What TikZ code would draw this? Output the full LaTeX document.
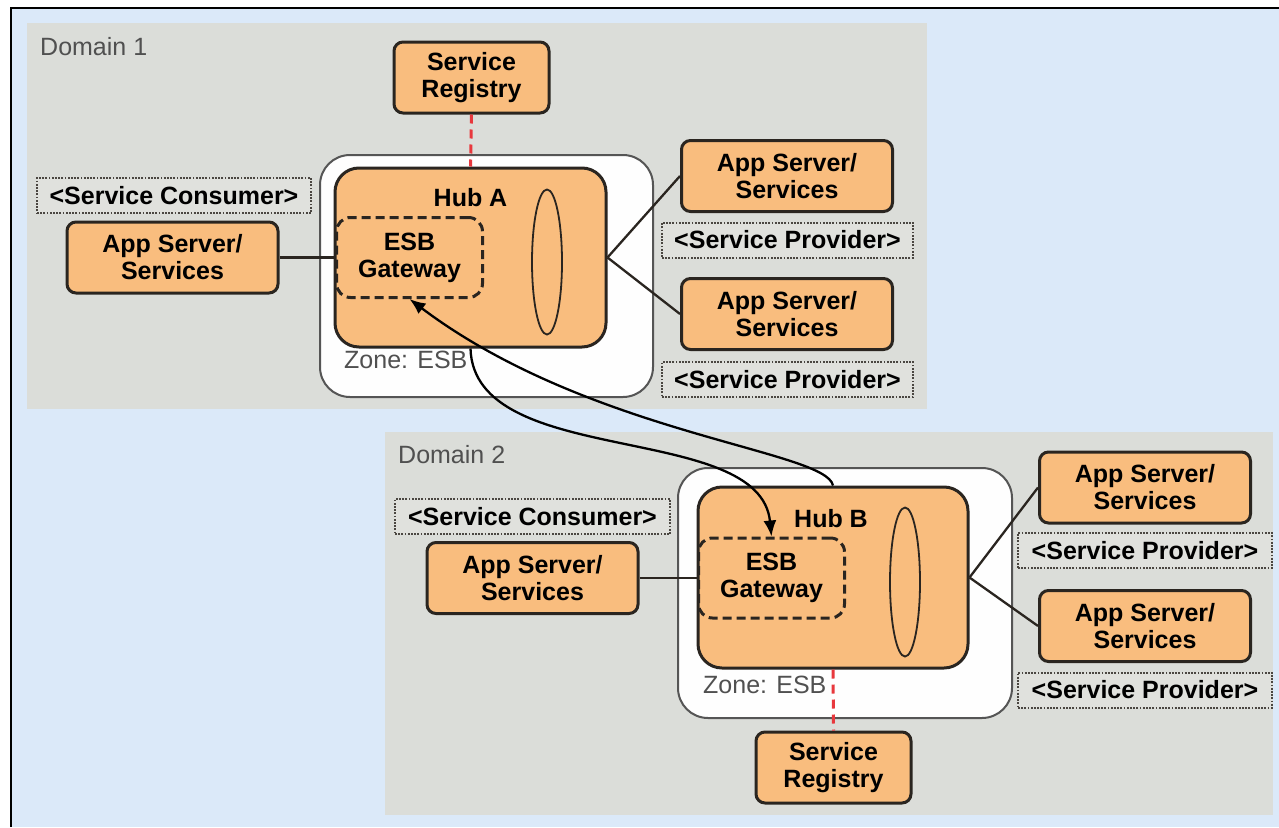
\documentclass[tikz,border=0pt]{standalone}
\usepackage{fontspec}
\setmainfont{Liberation Sans}
\usepackage{tikz}
\usetikzlibrary{shapes.geometric, arrows.meta, positioning}

\definecolor{skyback}{HTML}{DBE9F9}
\definecolor{domaingray}{HTML}{DBDDD9}
\definecolor{tagfill}{HTML}{E0E1DD}
\definecolor{boxorange}{HTML}{F9BD7E}
\definecolor{edgedark}{HTML}{2A2520}
\definecolor{zoneedge}{HTML}{555555}
\definecolor{labelgray}{HTML}{505050}
\definecolor{regred}{HTML}{E8383D}

\tikzset{
  boldtext/.style={font=\fontsize{25}{27}\selectfont\bfseries},
  graytext/.style={font=\fontsize{25}{27}\selectfont, text=labelgray, inner sep=0pt}
}
\tikzset{
  domainbox/.style={fill=domaingray, inner sep=0pt},
  appbox/.style={boldtext, draw=edgedark, line width=3pt, fill=boxorange, rounded corners=9pt,
    align=center, inner sep=0pt, minimum width=211pt, minimum height=71pt},
  regbox/.style={appbox, minimum width=155pt},
  hubbox/.style={draw=edgedark, line width=3pt, fill=boxorange, rounded corners=24pt, inner sep=0pt},
  gwbox/.style={boldtext, draw=edgedark, line width=3pt, dash pattern=on 9pt off 5pt,
    rounded corners=14pt, align=center, inner sep=0pt, minimum width=146pt, minimum height=80pt},
  zonebox/.style={draw=zoneedge, line width=2pt, fill=white!99!gray, rounded corners=30pt, inner sep=0pt},
  tagbox/.style={boldtext, draw=edgedark!85, line width=2pt, dash pattern=on 1.8pt off 1.4pt,
    fill=tagfill, inner sep=0pt, minimum height=35pt},
  busring/.style={ellipse, draw=edgedark, line width=1.8pt, inner sep=0pt, minimum width=30pt},
  link/.style={draw=edgedark, line width=2.3pt},
  reglink/.style={draw=regred, line width=3pt, dash pattern=on 9pt off 6pt},
  hop/.style={draw=black, line width=2.3pt, -{Latex[length=16pt,width=13pt]}}
}

\begin{document}
\begin{tikzpicture}[x=1pt, y=-1pt]
  \useasboundingbox (0,0) rectangle (1279,827);
  \fill[white] (0,0) rectangle (1279,827);
  \fill[skyback] (11,8) rectangle (1279,827);
  \draw[black, line width=2pt] (11,827) -- (11,8) -- (1279,8);

  % domain 1
  \node[domainbox, minimum width=900pt, minimum height=386pt] (dom1) at (477,216) {};
  \node[graytext, anchor=west] (dom1lbl) at (40,47) {Domain 1};
  \node[zonebox, minimum width=333pt, minimum height=242pt] (zoneA) at (486.5,276) {};
  \node[graytext, anchor=west] (zoneAlbl) at (344,360) {Zone: ESB};
  \node[hubbox, minimum width=271pt, minimum height=179pt] (hubA) at (470.5,257.5) {};
  \node[boldtext, inner sep=0pt] (hubAlbl) at (470.5,198) {Hub A};
  \node[gwbox] (gwA) at (409.5,257.5) {ESB\\Gateway};
  \node[busring, minimum height=145pt] (busA) at (547,262) {};

  \node[regbox] (regA) at (471.5,77.5) {Service\\Registry};
  \node[tagbox, minimum width=274pt] (consA) at (174,195.5) {<Service Consumer>};
  \node[appbox] (appA) at (172.5,257.5) {App Server/\\Services};
  \node[appbox] (appA1) at (787,176) {App Server/\\Services};
  \node[tagbox, minimum width=251pt] (provA1) at (787.5,240) {<Service Provider>};
  \node[appbox] (appA2) at (787,314) {App Server/\\Services};
  \node[tagbox, minimum width=251pt] (provA2) at (787.5,379.5) {<Service Provider>};

  \draw[link] (appA.east) -- (gwA.west);
  \draw[link] (hubA.east) -- (appA1.west);
  \draw[link] (hubA.east) -- (appA2.west);
  \draw[reglink] (regA.south) -- (hubA.north);

  % domain 2
  \node[domainbox, minimum width=888pt, minimum height=383pt] (dom2) at (829,623.5) {};
  \node[graytext, anchor=west] (dom2lbl) at (398,455) {Domain 2};
  \node[zonebox, minimum width=334pt, minimum height=250pt] (zoneB) at (845,593) {};
  \node[graytext, anchor=west] (zoneBlbl) at (703,685) {Zone: ESB};
  \node[hubbox, minimum width=270pt, minimum height=181pt] (hubB) at (833,577.5) {};
  \node[boldtext, inner sep=0pt] (hubBlbl) at (831,519) {Hub B};
  \node[gwbox] (gwB) at (771.5,578) {ESB\\Gateway};
  \node[busring, minimum height=149pt] (busB) at (905,582) {};

  \node[regbox] (regB) at (833.5,767.5) {Service\\Registry};
  \node[tagbox, minimum width=275pt] (consB) at (532.5,516.5) {<Service Consumer>};
  \node[appbox] (appB) at (532.5,578) {App Server/\\Services};
  \node[appbox] (appB1) at (1145,487.5) {App Server/\\Services};
  \node[tagbox, minimum width=254pt] (provB1) at (1145,550.5) {<Service Provider>};
  \node[appbox] (appB2) at (1145,626) {App Server/\\Services};
  \node[tagbox, minimum width=254pt] (provB2) at (1145,690) {<Service Provider>};

  \draw[link] (appB.east) -- (gwB.west);
  \draw[link] (hubB.east) -- (appB1.west);
  \draw[link] (hubB.east) -- (appB2.west);
  \draw[reglink] (hubB.south) -- (regB.north);

  % hub to hub traffic
  \draw[hop] (hubA.south) .. controls (474,470) and (760,420) .. (gwB.north);
  \draw[hop] (hubB.north) .. controls (826,450) and (590,435) .. (gwA.south);
\end{tikzpicture}
\end{document}
